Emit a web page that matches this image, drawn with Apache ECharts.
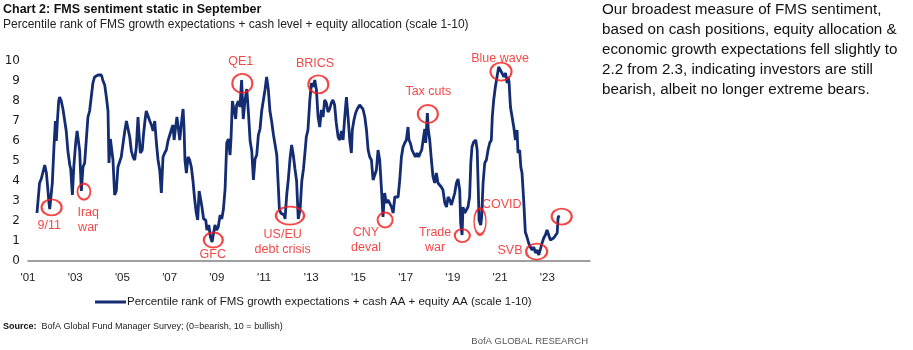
<!DOCTYPE html>
<html><head><meta charset="utf-8">
<script src="https://cdn.jsdelivr.net/npm/echarts@6/dist/echarts.min.js"></script>
<style>html,body{margin:0;padding:0;background:#fff}#c{width:913px;height:350px}</style>
</head><body><div id="c"></div>
<script>
const seriesName = 'Percentile rank of FMS growth expectations + cash AA + equity AA (scale 1-10)';
const yearTicks = [2001,2003,2005,2007,2009,2011,2013,2015,2017,2019,2021,2023];
const dates = [
2001.38,2001.49,2001.56,2001.64,2001.71,2001.78,2001.89,2001.92,2002.03,2002.10,2002.16,2002.20,2002.24,2002.30,2002.34,2002.41,2002.48,2002.55,2002.62,2002.69,2002.77,2002.81,2002.88,2002.94,
2003.02,2003.08,2003.13,2003.19,2003.26,2003.33,2003.40,2003.47,2003.54,2003.61,2003.68,2003.75,2003.82,2003.90,2003.97,2004.04,2004.11,2004.18,2004.25,2004.32,2004.39,2004.43,2004.49,2004.55,2004.60,2004.67,2004.74,2004.81,2004.88,2004.95,
2005.03,2005.10,2005.17,2005.24,2005.31,2005.38,2005.45,2005.52,2005.59,2005.66,2005.70,2005.76,2005.84,2005.90,2005.96,2006.01,2006.08,2006.16,2006.23,2006.30,2006.37,2006.44,2006.51,2006.58,2006.65,2006.72,2006.79,2006.86,2006.93,
2007.00,2007.07,2007.14,2007.19,2007.24,2007.31,2007.38,2007.43,2007.50,2007.57,2007.61,2007.65,2007.71,2007.78,2007.85,2007.92,2007.99,2008.06,2008.13,2008.19,2008.25,2008.32,2008.37,2008.44,2008.53,2008.58,2008.66,2008.73,2008.80,
2008.92,2008.99,2009.06,2009.14,2009.21,2009.28,2009.35,2009.42,2009.49,2009.56,2009.60,2009.66,2009.73,2009.80,2009.84,2009.91,2009.98,2010.05,2010.12,2010.19,2010.27,2010.34,2010.41,2010.48,2010.55,2010.62,2010.69,2010.76,2010.83,2010.90,2010.97,
2011.04,2011.11,2011.18,2011.25,2011.32,2011.40,2011.47,2011.54,2011.61,2011.65,2011.71,2011.78,2011.85,2011.89,2011.96,2012.03,2012.10,2012.17,2012.24,2012.31,2012.38,2012.45,2012.53,2012.60,2012.67,2012.74,2012.79,2012.86,2012.94,
2013.01,2013.08,2013.15,2013.22,2013.29,2013.36,2013.43,2013.50,2013.57,2013.64,2013.71,2013.78,2013.85,2013.92,2013.99,2014.06,2014.14,2014.21,2014.28,2014.35,2014.42,2014.49,2014.56,2014.63,2014.70,2014.74,2014.81,2014.88,2014.95,
2015.05,2015.12,2015.19,2015.27,2015.34,2015.41,2015.48,2015.55,2015.62,2015.69,2015.76,2015.83,2015.90,2015.97,2016.04,2016.11,2016.18,2016.25,2016.32,2016.40,2016.47,2016.54,2016.61,2016.68,2016.75,2016.82,2016.89,2016.96,
2017.03,2017.10,2017.14,2017.20,2017.27,2017.34,2017.41,2017.48,2017.55,2017.62,2017.68,2017.74,2017.81,2017.85,2017.92,2017.96,2018.02,2018.09,2018.16,2018.23,2018.30,2018.37,2018.44,2018.51,2018.58,2018.66,2018.73,2018.80,2018.87,2018.94,
2019.01,2019.08,2019.15,2019.22,2019.29,2019.33,2019.39,2019.43,2019.50,2019.57,2019.64,2019.71,2019.76,2019.81,2019.88,2019.97,2020.03,2020.07,2020.11,2020.18,2020.22,2020.28,2020.35,2020.42,2020.49,2020.56,2020.63,2020.67,2020.73,2020.80,2020.87,2020.94,
2021.01,2021.08,2021.16,2021.23,2021.30,2021.34,2021.38,2021.44,2021.51,2021.58,2021.65,2021.72,2021.76,2021.83,2021.88,2021.93,2022.00,2022.07,2022.14,2022.21,2022.28,2022.36,2022.43,2022.50,2022.57,2022.64,2022.71,2022.78,2022.85,2022.92,2022.99,
2023.06,2023.13,2023.20,2023.27,2023.34,2023.42,2023.46,2023.53
];
const values = [
2.4,3.9,4.1,4.2,4.8,4.4,2.9,2.6,3.9,5.7,7.0,6.0,6.9,8.0,8.2,8.0,7.6,7.5,6.5,5.5,4.8,4.6,3.3,4.7,
5.9,6.5,6.5,5.5,3.5,4.7,4.9,4.9,7.2,7.5,7.6,8.9,9.2,9.1,9.3,9.2,9.3,9.0,8.8,8.2,7.5,4.9,6.1,6.1,5.05,3.3,3.5,4.7,4.6,5.2,
5.9,6.5,7.0,7.05,6.2,5.5,5.2,5.05,5.7,7.2,6.4,5.4,5.55,6.4,7.05,7.5,7.5,7.0,6.8,6.5,7.0,5.9,5.05,4.55,3.4,5.2,5.4,5.55,6.0,
6.05,6.55,6.8,6.05,6.55,7.2,6.55,6.05,6.9,7.6,6.7,5.05,4.4,5.2,5.05,4.7,4.0,3.1,2.4,2.05,3.5,3.05,2.7,2.1,2.05,1.55,1.8,1.2,0.95,
1.8,1.55,1.7,2.3,2.1,2.6,3.6,5.9,6.1,5.3,6.1,8.0,8.05,7.1,7.8,8.0,7.7,9.05,7.1,8.0,8.6,7.4,6.0,5.5,4.05,5.1,5.3,6.3,6.6,7.5,7.6,
8.55,9.2,8.6,7.5,7.0,6.3,5.8,5.3,3.6,2.6,2.4,2.45,2.3,2.1,3.3,4.1,5.1,5.8,5.3,4.6,4.0,2.1,2.6,4.0,4.6,5.5,6.2,6.55,8.05,
8.9,8.7,9.05,8.55,7.2,6.7,7.55,7.2,8.05,7.9,7.45,7.6,7.9,8.05,7.8,6.9,6.2,6.05,6.5,6.05,7.2,8.2,7.2,6.05,5.4,6.55,7.05,7.4,7.6,
7.8,7.9,7.6,7.2,6.55,5.55,5.2,5.05,4.05,4.05,4.55,5.55,5.05,3.7,2.2,3.4,2.9,3.05,2.9,2.7,2.4,3.2,3.1,3.2,4.05,5.2,5.7,5.9,
6.05,6.7,6.05,5.9,5.55,5.55,5.2,5.4,5.2,5.4,5.55,6.05,6.6,5.9,7.4,6.55,6.05,5.05,4.2,3.9,4.4,3.9,3.9,3.7,3.55,2.9,2.7,3.2,3.05,2.8,
2.9,3.4,3.9,4.1,3.55,1.9,1.3,2.7,2.4,2.55,2.7,3.2,4.9,5.7,5.95,6.05,5.55,3.9,2.05,1.8,2.2,3.9,4.9,5.05,5.55,5.9,6.05,7.2,8.05,8.7,9.2,9.7,
9.55,9.4,9.2,9.4,8.9,9.2,8.95,7.7,7.2,6.7,6.05,6.55,5.4,5.55,4.7,4.4,3.05,1.45,1.2,0.9,0.7,0.55,0.7,0.4,0.55,0.3,0.6,0.9,1.15,1.3,1.55,
1.3,1.05,0.95,1.15,1.2,1.4,2.2,2.25
];
// annotation circles: [year, value, width, height]
const circleYears  = [2002.0, 2003.37, 2008.85, 2010.08, 2012.10, 2013.30, 2016.13, 2017.94, 2019.40, 2020.15, 2021.04, 2022.55, 2023.61];
const circleValues = [2.68, 3.47, 1.05, 8.88, 2.27, 8.83, 2.05, 7.35, 1.27, 1.97, 9.47, 0.47, 2.22];
const circleW = [20, 13, 19, 20, 28, 20, 15, 20, 15, 12, 21, 21, 20];
const circleH = [16, 16, 15, 19, 18, 18, 15, 18, 13, 26, 18, 16, 16];
const noteTexts  = ['9/11', 'Iraq\nwar', 'GFC', 'QE1', 'US/EU\ndebt crisis', 'BRICS', 'CNY\ndeval', 'Tax cuts', 'Trade\nwar', 'COVID', 'Blue wave', 'SVB'];
const noteYears  = [2001.90, 2003.55, 2008.83, 2010.01, 2011.79, 2013.16, 2015.32, 2017.96, 2018.25, 2021.07, 2021.00, 2021.42];
const noteValues = [1.77, 2.05, 0.30, 9.97, 0.97, 9.85, 1.05, 8.47, 1.05, 2.80, 10.13, 0.52];

const base = 2001;
const lineData = dates.map((d, i) => [d - base, values[i]]);
const circleData = circleYears.map((d, i) => ({value: [d - base, circleValues[i]], symbolSize: [circleW[i], circleH[i]]}));
const noteData = noteYears.map((d, i) => ({value: [d - base, noteValues[i]], name: noteTexts[i]}));

const FONT = "'Liberation Sans',Arial,sans-serif";
const RED = '#f21818';
const chart = echarts.init(document.getElementById('c'));
chart.setOption({
  animation: false,
  textStyle: {fontFamily: FONT},
  grid: {left: 28, right: 323, top: 61, bottom: 89, containLabel: false},
  xAxis: {
    type: 'value', min: 0, max: 23.81, interval: 2,
    axisLine: {show: true, lineStyle: {color: '#808080', width: 1.5}},
    axisTick: {show: false}, splitLine: {show: false},
    axisLabel: {showMaxLabel: false, margin: 11, fontSize: 11.5, color: '#1a1a1a', fontFamily: FONT,
      formatter: v => "'" + String(base + v).slice(2)}
  },
  yAxis: {
    type: 'value', min: 0, max: 10, interval: 1,
    axisLine: {show: false}, axisTick: {show: false}, splitLine: {show: false},
    axisLabel: {margin: 8, fontSize: 12, color: '#1a1a1a', fontFamily: "'DejaVu Sans',sans-serif"}
  },
  legend: {
    data: [seriesName], left: 90, top: 291, itemWidth: 31, itemHeight: 3, itemGap: 4,
    icon: 'rect', textStyle: {fontSize: 11.5, color: '#1a1a1a', fontFamily: FONT, padding: [0,0,0,-4]}
  },
  series: [
    {name: seriesName, type: 'line', data: lineData, showSymbol: false, symbol: 'none',
     lineStyle: {color: '#132c72', width: 2.8}, itemStyle: {color: '#132c72'}, z: 3},
    {name: 'circles', type: 'scatter', data: circleData, symbol: 'circle', silent: true, clip: false,
     itemStyle: {color: 'rgba(0,0,0,0)', borderColor: RED, borderWidth: 2}, z: 4},
    {name: 'notes', type: 'scatter', data: noteData, symbolSize: 1, silent: true, clip: false,
     itemStyle: {color: 'rgba(0,0,0,0)'}, z: 5,
     label: {show: true, position: 'inside', formatter: p => p.name, color: RED,
       fontSize: 12.5, lineHeight: 15, fontFamily: FONT, align: 'center', verticalAlign: 'middle'}}
  ],
  graphic: [
    {type: 'text', left: 3, top: 3, style: {text: 'Chart 2: FMS sentiment static in September', fontFamily: FONT, fontWeight: 'bold', fontSize: 12.5, fill: '#111'}},
    {type: 'text', left: 3, top: 19, style: {text: 'Percentile rank of FMS growth expectations + cash level + equity allocation (scale 1-10)', fontFamily: FONT, fontSize: 12, fill: '#222'}},
    {type: 'text', left: 602, top: 0, style: {text: 'Our broadest measure of FMS sentiment,\nbased on cash positions, equity allocation &\neconomic growth expectations fell slightly to\n2.2 from 2.3, indicating investors are still\nbearish, albeit no longer extreme bears.', fontFamily: FONT, fontSize: 15.2, lineHeight: 20, fill: '#111'}},
    {type: 'text', left: 3, top: 322, style: {text: '{b|Source:}  BofA Global Fund Manager Survey; (0=bearish, 10 = bullish)', fontFamily: FONT, fontSize: 9, fill: '#222', rich: {b: {fontWeight: 'bold', fontFamily: FONT, fontSize: 9, fill: '#111'}}}},
    {type: 'text', right: 325, top: 336, style: {text: 'BofA GLOBAL RESEARCH', fontFamily: FONT, fontSize: 9.5, fill: '#555'}}
  ]
});
</script></body></html>
